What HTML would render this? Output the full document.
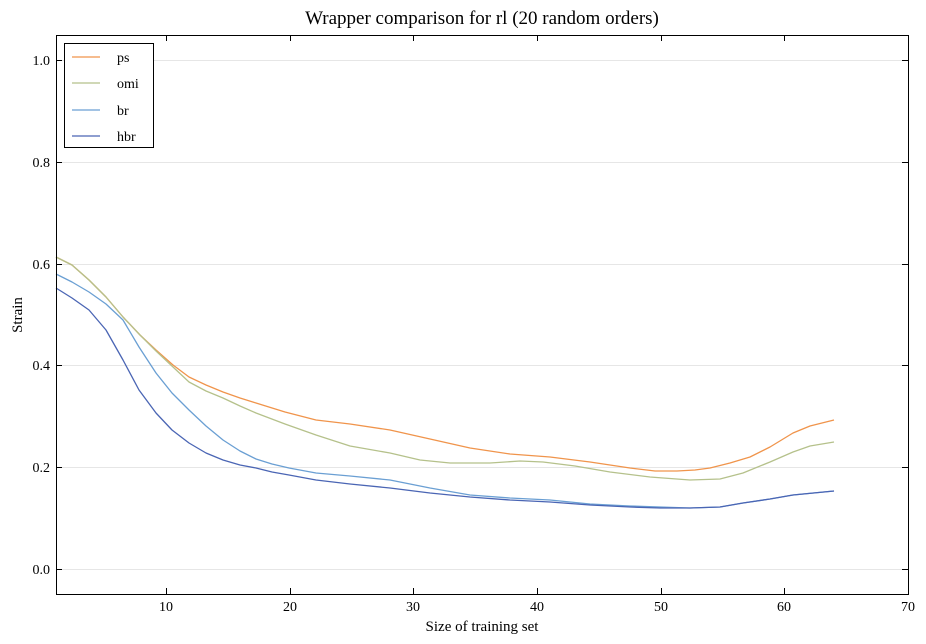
<!DOCTYPE html>
<html><head><style>body{margin:0;background:#fff}svg{display:block}text{font-family:"Liberation Serif",serif;fill:#000}</style></head>
<body>
<svg width="926" height="644" xmlns="http://www.w3.org/2000/svg">
<rect width="926" height="644" fill="#fff"/>
<text x="482" y="24" font-size="19" text-anchor="middle">Wrapper comparison for rl (20 random orders)</text>
<g stroke="#e6e6e6" stroke-width="1">
<line x1="56" x2="908" y1="569.5" y2="569.5"/><line x1="56" x2="908" y1="467.5" y2="467.5"/><line x1="56" x2="908" y1="365.5" y2="365.5"/><line x1="56" x2="908" y1="264.5" y2="264.5"/><line x1="56" x2="908" y1="162.5" y2="162.5"/><line x1="56" x2="908" y1="60.5" y2="60.5"/>
</g>
<g fill="none" stroke-width="1.3" stroke-linejoin="round">
<polyline stroke="#f0944b" points="56,257 72,265 89,280 106,297 123,317 140,335 156,350 173,365 189,377 206,385 223,392 240,398 256,403 285,412 316,420 350,424 390,430 430,439 470,448 510,454 550,457 590,462 630,468 655,471 677,471 695,470 710,468 730,463 750,457 770,447 793,433 810,426 834,420"/>
<polyline stroke="#b5c18b" points="56,257 72,265 89,280 106,297 123,317 140,335 156,351 173,367 189,382 206,391 223,398 240,406 256,413 285,424 316,435 350,446 390,453 420,460 450,463 490,463 520,461 543,462 575,466 610,472 650,477 690,480 720,479 743,473 770,462 793,452 810,446 834,442"/>
<polyline stroke="#6a9fd3" points="56,274 72,282 89,292 106,304 123,320 139,347 156,373 172,393 189,410 206,426 223,440 240,451 256,459 272,464 289,468 316,473 350,476 390,480 430,488 470,495 510,498 550,500 590,504 630,506 660,507 690,508 720,507 743,503 770,499 793,495 834,491"/>
<polyline stroke="#4a65b4" points="56,288 72,298 89,310 106,330 123,360 139,390 156,413 172,430 189,443 206,453 223,460 240,465 256,468 272,472 289,475 316,480 350,484 390,488 430,493 470,497 510,500 550,502 590,505 630,507 660,508 690,508 720,507 743,503 770,499 793,495 834,491"/>
</g>
<rect x="56.5" y="35.5" width="852" height="559" fill="none" stroke="#000" stroke-width="1"/>
<g stroke="#000">
<line x1="166.5" x2="166.5" y1="594" y2="588"/><line x1="290.5" x2="290.5" y1="594" y2="588"/><line x1="413.5" x2="413.5" y1="594" y2="588"/><line x1="537.5" x2="537.5" y1="594" y2="588"/><line x1="661.5" x2="661.5" y1="594" y2="588"/><line x1="784.5" x2="784.5" y1="594" y2="588"/>
<line x1="166.5" x2="166.5" y1="35" y2="41"/><line x1="290.5" x2="290.5" y1="35" y2="41"/><line x1="413.5" x2="413.5" y1="35" y2="41"/><line x1="537.5" x2="537.5" y1="35" y2="41"/><line x1="661.5" x2="661.5" y1="35" y2="41"/><line x1="784.5" x2="784.5" y1="35" y2="41"/>
<line x1="56" x2="62" y1="569.5" y2="569.5"/><line x1="56" x2="62" y1="467.5" y2="467.5"/><line x1="56" x2="62" y1="365.5" y2="365.5"/><line x1="56" x2="62" y1="264.5" y2="264.5"/><line x1="56" x2="62" y1="162.5" y2="162.5"/><line x1="56" x2="62" y1="60.5" y2="60.5"/>
<line x1="902" x2="908" y1="569.5" y2="569.5"/><line x1="902" x2="908" y1="467.5" y2="467.5"/><line x1="902" x2="908" y1="365.5" y2="365.5"/><line x1="902" x2="908" y1="264.5" y2="264.5"/><line x1="902" x2="908" y1="162.5" y2="162.5"/><line x1="902" x2="908" y1="60.5" y2="60.5"/>
</g>
<g font-size="14" text-anchor="middle">
<text x="166" y="611">10</text><text x="290" y="611">20</text><text x="413" y="611">30</text><text x="537" y="611">40</text><text x="661" y="611">50</text><text x="784" y="611">60</text><text x="908" y="611">70</text>
</g>
<g font-size="14" text-anchor="end">
<text x="50" y="574">0.0</text><text x="50" y="472">0.2</text><text x="50" y="370">0.4</text><text x="50" y="269">0.6</text><text x="50" y="167">0.8</text><text x="50" y="65">1.0</text>
</g>
<text x="482" y="631" font-size="15" text-anchor="middle">Size of training set</text>
<text x="22" y="315" font-size="15" text-anchor="middle" transform="rotate(-90 22 315)">Strain</text>
<rect x="64.5" y="43.5" width="89" height="104" fill="#fff" stroke="#000"/>
<g stroke-width="1.3">
<line x1="72" x2="100" y1="57" y2="57" stroke="#f0944b"/>
<line x1="72" x2="100" y1="83" y2="83" stroke="#b5c18b"/>
<line x1="72" x2="100" y1="110" y2="110" stroke="#6a9fd3"/>
<line x1="72" x2="100" y1="136" y2="136" stroke="#4a65b4"/>
</g>
<g font-size="14">
<text x="117" y="62">ps</text><text x="117" y="88">omi</text><text x="117" y="115">br</text><text x="117" y="141">hbr</text>
</g>
</svg>
</body></html>
